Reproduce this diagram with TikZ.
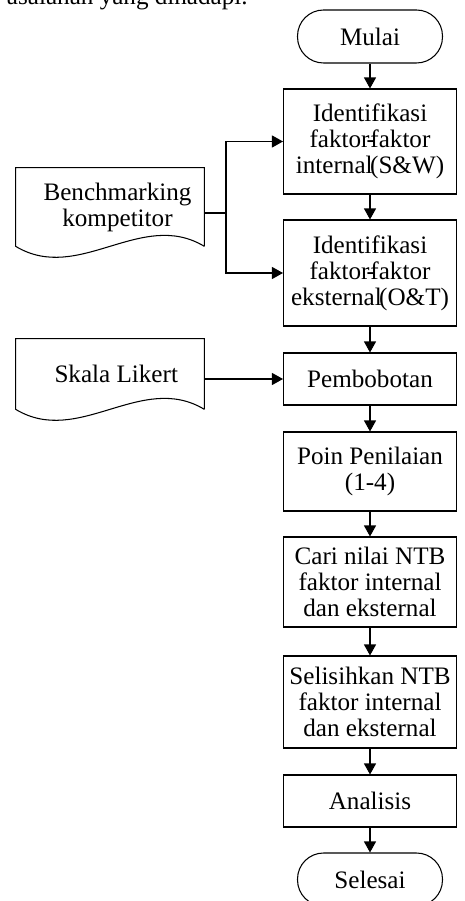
\documentclass[tikz,border=0pt]{standalone}
\usepackage{fontspec}
\setmainfont{Liberation Serif}
\usetikzlibrary{arrows.meta}

\begin{document}
\begin{tikzpicture}[
            x=0.02cm, y=-0.02cm,
            every node/.style={font=\fontsize{14.3pt}{14.8pt}\selectfont, align=center, inner sep=0pt},
            terminal/.style={draw, rounded corners=0.52cm, minimum width=2.9cm, minimum height=1.06cm},
            process/.style={draw, minimum width=3.46cm},
            docbox/.style={minimum width=3.76cm, minimum height=1.56cm},
            line/.style={line width=0.6pt},
            arrow/.style={line, -{Triangle[length=0.22cm,width=0.24cm]}}
            ]
            \useasboundingbox (0,0) rectangle (464,901);

            \node[anchor=base east] (judul) at (248,5) {asalahan yang dihadapi.};

            \node[terminal, line] (mulai) at (370,36.5) {Mulai};
            \node[process, line, minimum height=2.1cm] (intern) at (370,141.5) {Identifikasi\\faktor\kern-0.12em-\kern-0.18em faktor\\internal\kern-0.1em(S\&W)};
            \node[process, line, minimum height=2.12cm] (ekstern) at (370,273) {Identifikasi\\faktor\kern-0.12em-\kern-0.18em faktor\\eksternal\kern-0.1em(O\&T)};
            \node[process, line, minimum height=1.04cm] (bobot) at (370,379) {Pembobotan};
            \node[process, line, minimum height=1.58cm] (poin) at (370,471.5) {Poin Penilaian\\(1-4)};
            \node[process, line, minimum height=1.8cm] (ntb) at (370,582) {Cari nilai NTB\\faktor internal\\dan eksternal};
            \node[process, line, minimum height=1.84cm] (selisih) at (370,702) {Selisihkan NTB\\faktor internal\\dan eksternal};
            \node[process, line, minimum height=1.04cm] (analisis) at (370,801) {Analisis};
            \node[terminal, line] (selesai) at (370,879.5) {Selesai};

            % dokumen masukan
            \node[docbox] (bench) at (110,207) {\hspace{0.3cm}Benchmarking\\\hspace{0.3cm}kompetitor};
            \node[docbox, minimum height=1.4cm] (likert) at (110,374) {\hspace{0.25cm}Skala Likert};

            \foreach \d in {bench,likert}{
                \draw[line] (\d.south east) -- (\d.north east) -- (\d.north west) -- (\d.south west)
                    .. controls ++(63,38) and ++(-63,-38) .. (\d.south east);
            }

            \foreach \a/\b in {mulai/intern,intern/ekstern,ekstern/bobot,bobot/poin,poin/ntb,ntb/selisih,selisih/analisis,analisis/selesai}{
                \draw[arrow] (\a) -- (\b);
            }

            \coordinate (cabang) at (226,213);
            \draw[line] (cabang -| bench.east) -- (cabang);
            \draw[arrow] (cabang) |- (intern.west);
            \draw[arrow] (cabang) |- (ekstern.west);
            \draw[arrow] (likert.east |- bobot.west) -- (bobot.west);
        \end{tikzpicture}
\end{document}
